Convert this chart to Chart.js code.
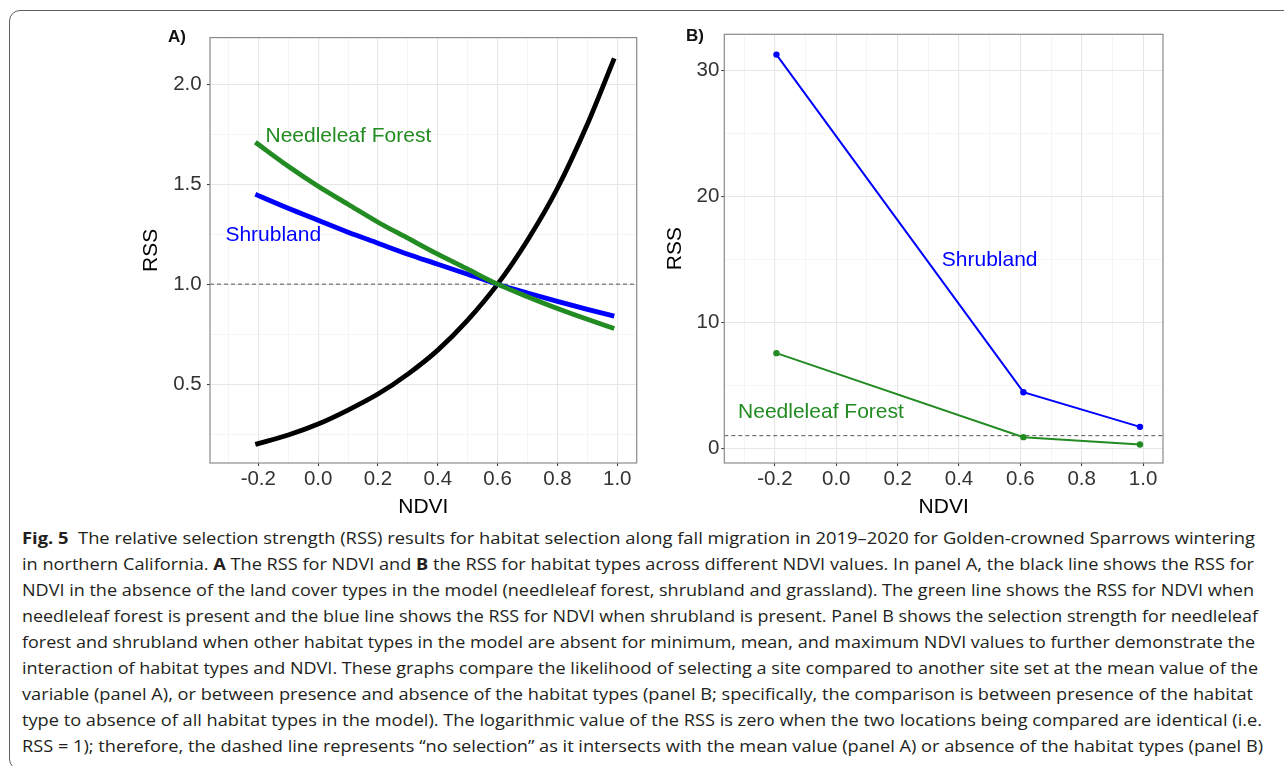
<!DOCTYPE html>
<html>
<head>
<meta charset="utf-8">
<script src="https://cdn.jsdelivr.net/npm/chart.js@4.4.1/dist/chart.umd.min.js"></script>
<style>
  html, body { margin: 0; padding: 0; background: #fff; }
  body { width: 1284px; height: 766px; position: relative; overflow: hidden; }
  .frame { position: absolute; left: 9px; top: 10px; width: 1300px; height: 760px; border: 1.6px solid #5f5f5f; border-radius: 11px; box-sizing: border-box; }
  canvas { position: absolute; }
  .tag { position: absolute; font: bold 17px "Liberation Sans", Arial, sans-serif; line-height: 17px; color: #111; }
  .cap { position: absolute; left: 22px; white-space: nowrap; font: 16px "Open Sans", sans-serif; line-height: 26px; color: #231f20; transform-origin: 0 0; }
  .cap b { font-weight: 700; }
</style>
</head>
<body>
<div class="frame"></div>
<canvas id="chartA" width="520" height="500" style="left:130px;top:20px"></canvas>
<canvas id="chartB" width="530" height="500" style="left:644px;top:20px"></canvas>
<div class="tag" style="left:168px;top:28px">A)</div>
<div class="tag" style="left:686px;top:26.5px">B)</div>

<div class="cap" data-r="1255" style="top:525px"><b>Fig. 5</b>&nbsp; The relative selection strength (RSS) results for habitat selection along fall migration in 2019–2020 for Golden-crowned Sparrows wintering</div>
<div class="cap" data-r="1254" style="top:551px">in northern California. <b>A</b> The RSS for NDVI and <b>B</b> the RSS for habitat types across different NDVI values. In panel A, the black line shows the RSS for</div>
<div class="cap" data-r="1254" style="top:577px">NDVI in the absence of the land cover types in the model (needleleaf forest, shrubland and grassland). The green line shows the RSS for NDVI when</div>
<div class="cap" data-r="1258" style="top:603px">needleleaf forest is present and the blue line shows the RSS for NDVI when shrubland is present. Panel B shows the selection strength for needleleaf</div>
<div class="cap" data-r="1255" style="top:629px">forest and shrubland when other habitat types in the model are absent for minimum, mean, and maximum NDVI values to further demonstrate the</div>
<div class="cap" data-r="1258" style="top:655px">interaction of habitat types and NDVI. These graphs compare the likelihood of selecting a site compared to another site set at the mean value of the</div>
<div class="cap" data-r="1253" style="top:681px">variable (panel A), or between presence and absence of the habitat types (panel B; specifically, the comparison is between presence of the habitat</div>
<div class="cap" data-r="1262" style="top:707px">type to absence of all habitat types in the model). The logarithmic value of the RSS is zero when the two locations being compared are identical (i.e.</div>
<div class="cap" data-r="1263" style="top:733px">RSS = 1); therefore, the dashed line represents “no selection” as it intersects with the mean value (panel A) or absence of the habitat types (panel B)</div>

<script>
const GREEN = '#228B22';
const BLUE = '#0000FF';
const FONT = '"Liberation Sans", Arial, sans-serif';

// panel A: RSS against NDVI
const ndviA = [-0.21, -0.1, 0.0, 0.1, 0.2, 0.3, 0.4, 0.5, 0.6, 0.7, 0.8, 0.9, 0.99];
const rssNdvi = [0.198, 0.245, 0.30, 0.37, 0.45, 0.55, 0.67, 0.82, 1.00, 1.22, 1.48, 1.80, 2.13];
const rssNeedleA = [1.71, 1.59, 1.49, 1.40, 1.31, 1.23, 1.15, 1.075, 1.00, 0.937, 0.878, 0.824, 0.778];
const rssShrubA = [1.45, 1.38, 1.32, 1.26, 1.205, 1.15, 1.10, 1.05, 1.00, 0.956, 0.914, 0.874, 0.84];

// panel B: min, mean and max NDVI
const ndviB = [-0.195, 0.61, 0.99];
const rssShrubB = [31.25, 4.45, 1.7];
const rssNeedleB = [7.55, 0.88, 0.3];

const xTicks = [-0.2, 0.0, 0.2, 0.4, 0.6, 0.8, 1.0];
const xMinor = [-0.3, -0.1, 0.1, 0.3, 0.5, 0.7, 0.9];
const yTicksA = [0.5, 1.0, 1.5, 2.0];
const yMinorA = [0.25, 0.75, 1.25, 1.75];
const yTicksB = [0, 10, 20, 30];
const yMinorB = [5, 15, 25];
const noSelection = 1;

const notesA = [
    { text: 'Needleleaf Forest', x: 0.101, y: 1.743, color: GREEN },
    { text: 'Shrubland', x: -0.15, y: 1.244, color: BLUE }
];
const notesB = [
    { text: 'Shrubland', x: 0.50, y: 14.9, color: BLUE },
    { text: 'Needleleaf Forest', x: -0.05, y: 2.9, color: GREEN }
];

function axis(o) {
    return {
        type: 'linear',
        min: o.min,
        max: o.max,
        afterBuildTicks: s => {
            s.ticks = o.major.map(v => ({ value: v }))
                .concat(o.minor.map(v => ({ value: v, minor: true })))
                .sort((a, b) => a.value - b.value);
        },
        afterFit: s => {
            if (s.isHorizontal()) s.height = o.size; else s.width = o.size;
        },
        grid: {
            color: c => (c.tick && c.tick.minor) ? '#f3f3f3' : '#e6e6e6',
            lineWidth: c => (c.tick && c.tick.minor) ? 0.8 : 1.1,
            tickColor: c => (c.tick && c.tick.minor) ? 'rgba(0,0,0,0)' : '#333',
            tickWidth: 1,
            tickLength: 3,
            drawTicks: true
        },
        border: { display: false },
        ticks: {
            autoSkip: false,
            maxRotation: 0,
            padding: o.pad,
            color: '#333',
            font: { family: FONT, size: 20.5 },
            callback: (v, i, t) => t[i].minor ? '' : Number(v).toFixed(o.dec)
        },
        title: {
            display: true,
            text: o.title,
            color: '#000',
            font: { family: FONT, size: 21 },
            padding: o.titlePad
        }
    };
}

function overlay(notes) {
    return {
        id: 'overlay',
        beforeDatasetsDraw(chart) {
            const { ctx, chartArea: a, scales: { y } } = chart;
            const py = y.getPixelForValue(noSelection);
            ctx.save();
            ctx.strokeStyle = '#555';
            ctx.lineWidth = 1;
            ctx.setLineDash([4, 3]);
            ctx.beginPath();
            ctx.moveTo(a.left, py);
            ctx.lineTo(a.right, py);
            ctx.stroke();
            ctx.restore();
        },
        afterDraw(chart) {
            const { ctx, chartArea: a, scales: { x, y } } = chart;
            ctx.save();
            ctx.font = '21px ' + FONT;
            ctx.textAlign = 'center';
            ctx.textBaseline = 'middle';
            notes.forEach(n => {
                ctx.fillStyle = n.color;
                ctx.fillText(n.text, x.getPixelForValue(n.x), y.getPixelForValue(n.y));
            });
            ctx.strokeStyle = '#8a8a8a';
            ctx.lineWidth = 1.2;
            ctx.strokeRect(a.left, a.top, a.right - a.left, a.bottom - a.top);
            ctx.restore();
        }
    };
}

const pts = (xs, ys) => xs.map((x, i) => ({ x: x, y: ys[i] }));

const thick = color => ({
    borderColor: color,
    borderWidth: 4.8,
    pointRadius: 0,
    cubicInterpolationMode: 'monotone',
    borderCapStyle: 'butt'
});

const thin = color => ({
    borderColor: color,
    backgroundColor: color,
    borderWidth: 2,
    pointRadius: 3.2,
    pointBorderWidth: 0,
    tension: 0
});

const common = {
    responsive: false,
    animation: false,
    plugins: { legend: { display: false }, tooltip: { enabled: false } }
};

new Chart(document.getElementById('chartA'), {
    type: 'line',
    data: {
        datasets: [
            Object.assign({ data: pts(ndviA, rssNeedleA) }, thick(GREEN)),
            Object.assign({ data: pts(ndviA, rssShrubA) }, thick(BLUE)),
            Object.assign({ data: pts(ndviA, rssNdvi) }, thick('#000'))
        ]
    },
    options: Object.assign({}, common, {
        layout: { padding: { left: 0, right: 13.3, top: 6, bottom: 0 } },
        scales: {
            x: axis({ min: -0.3615, max: 1.065, major: xTicks, minor: xMinor, dec: 1, size: 57, pad: 1.5, title: 'NDVI', titlePad: { top: 0, bottom: 0 } }),
            y: axis({ min: 0.105, max: 2.234, major: yTicksA, minor: yMinorA, dec: 1, size: 80, pad: 5.3, title: 'RSS', titlePad: { top: 8.7, bottom: 0 } })
        }
    }),
    plugins: [overlay(notesA)]
});

new Chart(document.getElementById('chartB'), {
    type: 'line',
    data: {
        datasets: [
            Object.assign({ data: pts(ndviB, rssShrubB) }, thin(BLUE)),
            Object.assign({ data: pts(ndviB, rssNeedleB) }, thin(GREEN))
        ]
    },
    options: Object.assign({}, common, {
        layout: { padding: { left: 0, right: 11, top: 6, bottom: 0 } },
        scales: {
            x: axis({ min: -0.365, max: 1.065, major: xTicks, minor: xMinor, dec: 1, size: 57, pad: 1.5, title: 'NDVI', titlePad: { top: 0, bottom: 0 } }),
            y: axis({ min: -1.17, max: 32.86, major: yTicksB, minor: yMinorB, dec: 0, size: 80.3, pad: 2, title: 'RSS', titlePad: { top: 18.4, bottom: 0 } })
        }
    }),
    plugins: [overlay(notesB)]
});

// stretch each caption line to the width it has in the figure
function fitCaption() {
    document.querySelectorAll('.cap').forEach(el => {
        el.style.transform = 'none';
        const w = el.getBoundingClientRect().width;
        const target = Number(el.dataset.r) - 22;
        el.style.transform = 'scaleX(' + (target / w) + ')';
    });
}
fitCaption();
if (document.fonts) document.fonts.ready.then(fitCaption);
</script>
</body>
</html>
